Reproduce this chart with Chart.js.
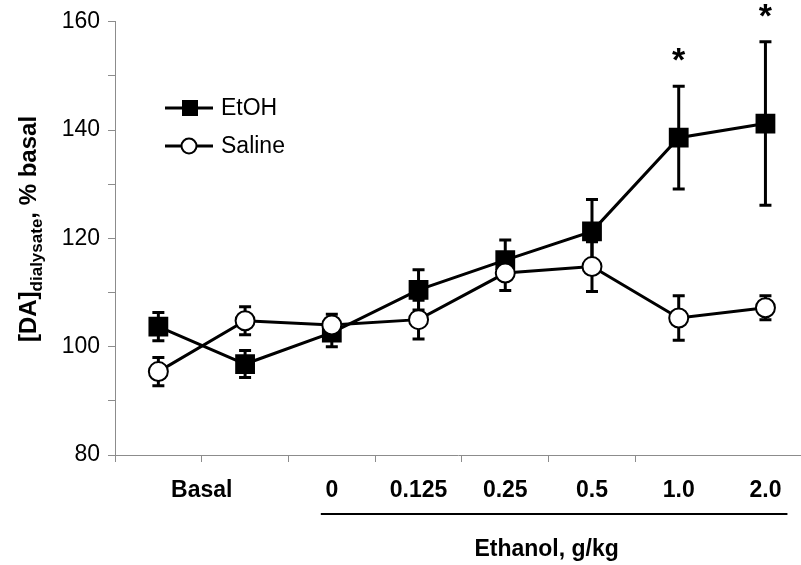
<!DOCTYPE html>
<html>
<head>
<meta charset="utf-8">
<script src="https://cdn.jsdelivr.net/npm/chart.js@4/dist/chart.umd.min.js"></script>
<style>
  html, body { margin: 0; padding: 0; background: #fff; overflow: hidden; }
  #wrap { width: 801px; height: 565px; position: relative; }
  #myChart { display: block; }
</style>
</head>
<body>
<div id="wrap"><canvas id="myChart"></canvas></div>
<script>
// time points: two basal samples, then ethanol doses (g/kg)
const points = ['Basal', 'Basal', '0', '0.125', '0.25', '0.5', '1.0', '2.0']
const etohMean = [103.7, 96.8, 102.6, 110.5, 116.0, 121.3, 138.6, 141.2]
const etohErr = [2.6, 2.5, 2.6, 3.7, 3.7, 5.9, 9.5, 15.1]
const salineMean = [95.4, 104.8, 104.0, 105.0, 113.6, 114.8, 105.3, 107.2]
const salineErr = [2.6, 2.6, 2.0, 3.6, 3.2, 4.6, 4.1, 2.2]
const significant = [false, false, false, false, false, false, true, true]
const yTicks = [80, 100, 120, 140, 160]

const FONT = '"Liberation Sans", Arial, sans-serif'
const AXIS_GRAY = '#8c8c8c'

const toXY = arr => arr.map((v, i) => ({ x: i, y: v }))

// tick marks sit between the points, labels sit under them ("Basal" spans both basal points)
const boundaryTicks = points.slice(0, -1).map((p, i) => i - 0.5)
const labelTicks = {}
points.forEach((p, i) => {
  if (p === 'Basal') return
  labelTicks[i] = p
})
labelTicks[0.5] = 'Basal'

const errorBars = {
  id: 'errorBars',
  beforeDatasetsDraw(chart) {
    const { ctx, scales: { x, y } } = chart
    ctx.save()
    ctx.strokeStyle = '#000'
    ctx.lineWidth = 3
    const sets = [[etohMean, etohErr], [salineMean, salineErr]]
    sets.forEach(([mean, err]) => {
      mean.forEach((m, i) => {
        const px = x.getPixelForValue(i)
        const top = y.getPixelForValue(m + err[i])
        const bot = y.getPixelForValue(m - err[i])
        ctx.beginPath()
        ctx.moveTo(px, top); ctx.lineTo(px, bot)
        ctx.moveTo(px - 6, top); ctx.lineTo(px + 6, top)
        ctx.moveTo(px - 6, bot); ctx.lineTo(px + 6, bot)
        ctx.stroke()
      })
    })
    ctx.restore()
  }
}

const extras = {
  id: 'extras',
  afterDraw(chart) {
    const { ctx, scales: { x, y } } = chart
    ctx.save()
    ctx.fillStyle = '#000'
    ctx.strokeStyle = '#000'

    // significance stars
    ctx.font = 'bold 34px ' + FONT
    ctx.textAlign = 'center'
    ctx.textBaseline = 'alphabetic'
    significant.forEach((s, i) => {
      if (!s) return
      const top = y.getPixelForValue(etohMean[i] + etohErr[i])
      ctx.fillText('*', x.getPixelForValue(i), top - 15)
    })

    // legend
    ctx.lineWidth = 3
    ctx.font = '23px ' + FONT
    ctx.textAlign = 'left'
    ctx.textBaseline = 'middle'
    const lx = 165
    ;[['EtOH', 108, 'square'], ['Saline', 146, 'circle']].forEach(([name, ly, shape]) => {
      ctx.beginPath()
      ctx.moveTo(lx, ly); ctx.lineTo(lx + 48, ly)
      ctx.stroke()
      if (shape === 'square') {
        ctx.fillRect(lx + 17, ly - 8, 16, 16)
      } else {
        ctx.beginPath()
        ctx.arc(lx + 24, ly, 7.5, 0, Math.PI * 2)
        ctx.fillStyle = '#fff'
        ctx.fill()
        ctx.lineWidth = 2
        ctx.stroke()
        ctx.fillStyle = '#000'
        ctx.lineWidth = 3
      }
      ctx.fillText(name, lx + 56, ly + 1)
    })

    // y axis title with subscript
    ctx.save()
    ctx.translate(36, 229)
    ctx.rotate(-Math.PI / 2)
    const parts = [['[DA]', 'bold 24px ', 0], ['dialysate', 'bold 17px ', 6], [', % basal', 'bold 24px ', 0]]
    let total = 0
    parts.forEach(([t, f]) => { ctx.font = f + FONT; total += ctx.measureText(t).width })
    let cx = -total / 2
    ctx.textAlign = 'left'
    ctx.textBaseline = 'alphabetic'
    parts.forEach(([t, f, dy]) => {
      ctx.font = f + FONT
      ctx.fillText(t, cx, dy)
      cx += ctx.measureText(t).width
    })
    ctx.restore()

    // ethanol dose bracket and title
    ctx.lineWidth = 2
    ctx.beginPath()
    ctx.moveTo(x.getPixelForValue(2) - 11, 514)
    ctx.lineTo(x.getPixelForValue(7) + 22, 514)
    ctx.stroke()
    ctx.font = 'bold 23px ' + FONT
    ctx.textAlign = 'center'
    ctx.textBaseline = 'alphabetic'
    ctx.fillText('Ethanol, g/kg', x.getPixelForValue(4.5) - 2, 556)
    ctx.restore()
  }
}

const ctx = document.getElementById('myChart').getContext('2d')
const chart = new Chart(ctx, {
  type: 'line',
  data: {
    datasets: [{
      label: 'EtOH',
      data: toXY(etohMean),
      borderColor: '#000',
      backgroundColor: '#000',
      borderWidth: 3,
      pointStyle: 'rect',
      pointRadius: 14,
      pointBorderWidth: 0,
      pointBackgroundColor: '#000',
      order: 2
    }, {
      label: 'Saline',
      data: toXY(salineMean),
      borderColor: '#000',
      backgroundColor: '#fff',
      borderWidth: 3,
      pointStyle: 'circle',
      pointRadius: 9.5,
      pointBorderWidth: 2,
      pointBackgroundColor: '#fff',
      pointBorderColor: '#000',
      order: 1
    }]
  },
  options: {
    responsive: true,
    maintainAspectRatio: false,
    animation: false,
    layout: { autoPadding: false, padding: { top: 17, right: 0, bottom: 0, left: 0 } },
    plugins: {
      legend: { display: false },
      tooltip: { enabled: false }
    },
    scales: {
      x: {
        type: 'linear',
        min: -0.5,
        max: 7.41,
        afterBuildTicks: scale => {
          const vals = boundaryTicks.concat(Object.keys(labelTicks).map(Number))
          scale.ticks = [...new Set(vals)].sort((a, b) => a - b).map(v => ({ value: v }))
        },
        afterFit: scale => {
          scale.height = 110
          scale.paddingLeft = 0
          scale.paddingRight = 0
        },
        grid: {
          drawOnChartArea: false,
          tickLength: 7,
          tickColor: c => (c.tick && boundaryTicks.includes(c.tick.value)) ? AXIS_GRAY : 'rgba(0,0,0,0)'
        },
        border: { color: AXIS_GRAY, width: 1 },
        ticks: {
          autoSkip: false,
          maxRotation: 0,
          padding: 15,
          color: '#000',
          font: { family: FONT, size: 23, weight: 'bold' },
          callback: v => labelTicks[v] !== undefined ? labelTicks[v] : ''
        }
      },
      y: {
        min: 80,
        max: 160,
        afterFit: scale => { scale.width = 115 },
        grid: { drawOnChartArea: false, tickLength: 7, tickColor: AXIS_GRAY },
        border: { color: AXIS_GRAY, width: 1 },
        ticks: {
          stepSize: 10,
          padding: 8,
          color: '#000',
          font: { family: FONT, size: 23 },
          callback: v => yTicks.includes(v) ? v : ''
        }
      }
    }
  },
  plugins: [errorBars, extras]
})
</script>
</body>
</html>
